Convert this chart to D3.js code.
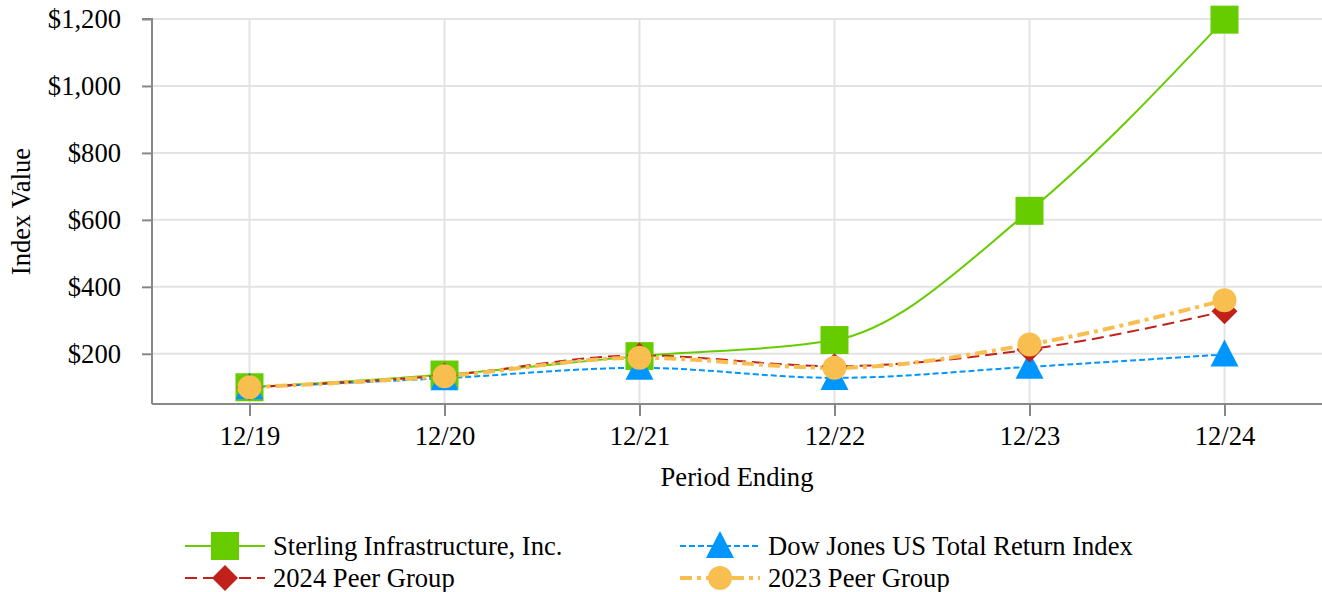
<!DOCTYPE html>
<html>
<head>
<meta charset="utf-8">
<script src="https://cdn.jsdelivr.net/npm/d3@7"></script>
<style>
  body { margin: 0; background: #fff; }
  svg text { font-family: "Liberation Serif", "Times New Roman", serif; fill: #000; }
</style>
</head>
<body>
<div id="chart"></div>
<script>
// Data
const periods = ["12/19", "12/20", "12/21", "12/22", "12/23", "12/24"];
const sterling = [100, 138, 193, 241, 627, 1198];
const dowJones = [100, 127, 158, 128, 161, 198];
const peer2024 = [100, 135, 195, 163, 213, 327];
const peer2023 = [100, 133, 188, 158, 228, 360];
const yTicks = [200, 400, 600, 800, 1000, 1200];

const series = [
  { name: "Sterling Infrastructure, Inc.", values: sterling, color: "#66cc00", dash: null, width: 2, shape: "square" },
  { name: "Dow Jones US Total Return Index", values: dowJones, color: "#0096ff", dash: "6,3", width: 2, shape: "triangle" },
  { name: "2024 Peer Group", values: peer2024, color: "#c0221b", dash: "12,6", width: 2, shape: "diamond" },
  { name: "2023 Peer Group", values: peer2023, color: "#f8bf50", dash: "12,5,4,5", width: 4, shape: "circle" }
];

const W = 1322, H = 592;
const margin = { top: 19, left: 152, right: 0, bottom: 188 };
const fontSize = 26.6;

const svg = d3.select("#chart").append("svg")
  .attr("width", W)
  .attr("height", H);

const x = d3.scalePoint()
  .domain(periods)
  .range([margin.left, W - margin.right])
  .padding(0.5);

const y = d3.scaleLinear()
  .domain([50, 1200])
  .range([404, margin.top]);

// grid
const grid = svg.append("g");
grid.selectAll("line.h")
  .data(yTicks)
  .enter().append("line")
  .attr("x1", margin.left).attr("x2", W)
  .attr("y1", d => y(d)).attr("y2", d => y(d))
  .attr("stroke", "#e3e3e3").attr("stroke-width", 2);
grid.selectAll("line.v")
  .data(periods)
  .enter().append("line")
  .attr("x1", d => x(d)).attr("x2", d => x(d))
  .attr("y1", y(1200)).attr("y2", y(50))
  .attr("stroke", "#e3e3e3").attr("stroke-width", 2);

// axes
const yAxis = svg.append("g")
  .attr("transform", `translate(${margin.left},0)`)
  .call(d3.axisLeft(y).tickValues(yTicks).tickSize(10).tickPadding(21)
    .tickFormat(d => "$" + d3.format(",")(d)));
const xAxis = svg.append("g")
  .attr("transform", `translate(0,${y(50)})`)
  .call(d3.axisBottom(x).tickSize(12).tickPadding(10));

[yAxis, xAxis].forEach(a => {
  a.select(".domain").attr("stroke", "#888").attr("stroke-width", 2);
  a.selectAll(".tick line").attr("stroke", "#888").attr("stroke-width", 2);
  a.selectAll(".tick text").attr("font-size", fontSize).attr("font-family", "Liberation Serif");
});
yAxis.select(".domain").attr("d", `M-10,${y(1200)}H0V${y(50)}`);
xAxis.select(".domain").attr("d", `M${margin.left},0H${W}`);

// axis titles
svg.append("text")
  .attr("transform", `translate(30,${(y(1200) + y(50)) / 2}) rotate(-90)`)
  .attr("text-anchor", "middle")
  .attr("font-size", fontSize)
  .text("Index Value");
svg.append("text")
  .attr("x", (margin.left + W) / 2)
  .attr("y", 486)
  .attr("text-anchor", "middle")
  .attr("font-size", fontSize)
  .text("Period Ending");

// lines
const line = d3.line()
  .x((d, i) => x(periods[i]))
  .y(d => y(d))
  .curve(d3.curveMonotoneX);

const plot = svg.append("g");
series.forEach(s => {
  plot.append("path")
    .datum(s.values)
    .attr("d", line)
    .attr("fill", "none")
    .attr("stroke", s.color)
    .attr("stroke-width", s.width)
    .attr("stroke-dasharray", s.dash);
});

function drawMarker(g, shape, color, cx, cy) {
  if (shape === "square") {
    g.append("rect").attr("x", cx - 14).attr("y", cy - 14)
      .attr("width", 28).attr("height", 28).attr("fill", color);
  } else if (shape === "triangle") {
    g.append("path").attr("d", `M${cx},${cy - 15}L${cx + 14},${cy + 12}L${cx - 14},${cy + 12}Z`)
      .attr("fill", color);
  } else if (shape === "diamond") {
    g.append("path").attr("d", `M${cx},${cy - 13}L${cx + 13},${cy}L${cx},${cy + 13}L${cx - 13},${cy}Z`)
      .attr("fill", color);
  } else {
    g.append("circle").attr("cx", cx).attr("cy", cy).attr("r", 12).attr("fill", color);
  }
}

series.forEach(s => {
  const g = plot.append("g");
  s.values.forEach((v, i) => drawMarker(g, s.shape, s.color, x(periods[i]), y(v)));
});

// legend (left column Sterling / 2024, right column Dow / 2023)
const legendPos = [
  { s: series[0], lx: 185, ly: 546 },
  { s: series[1], lx: 680, ly: 546 },
  { s: series[2], lx: 185, ly: 578 },
  { s: series[3], lx: 680, ly: 578 }
];
const legend = svg.append("g");
legendPos.forEach(p => {
  const g = legend.append("g");
  g.append("line")
    .attr("x1", p.lx).attr("x2", p.lx + 80)
    .attr("y1", p.ly).attr("y2", p.ly)
    .attr("stroke", p.s.color)
    .attr("stroke-width", p.s.width)
    .attr("stroke-dasharray", p.s.dash);
  drawMarker(g, p.s.shape, p.s.color, p.lx + 40, p.ly);
  g.append("text")
    .attr("x", p.lx + 88)
    .attr("y", p.ly)
    .attr("dy", "0.33em")
    .attr("font-size", fontSize)
    .text(p.s.name);
});
</script>
</body>
</html>
